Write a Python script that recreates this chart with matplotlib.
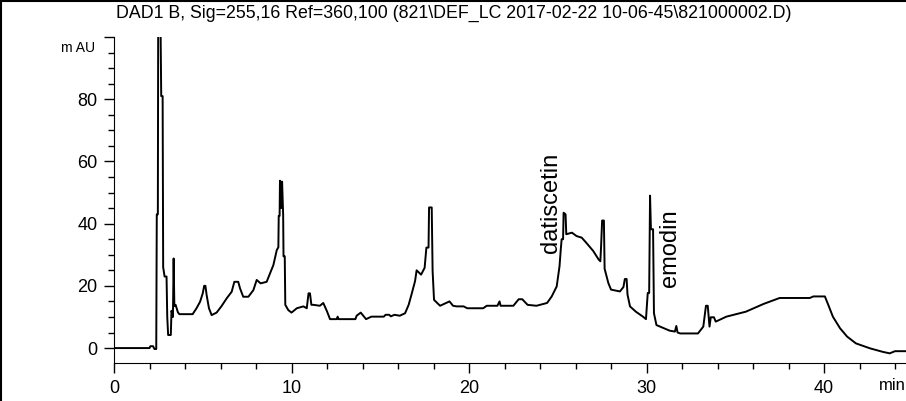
import matplotlib
matplotlib.use('Agg')
import matplotlib.pyplot as plt
from matplotlib.lines import Line2D
from matplotlib.ticker import MultipleLocator

plt.rcParams['font.family'] = ['Liberation Sans Narrow', 'Liberation Sans', 'DejaVu Sans']

title = r'DAD1 B, Sig=255,16 Ref=360,100 (821\DEF_LC 2017-02-22 10-06-45\821000002.D)'

# retention time (min) and absorbance (mAU)
time_min = [
    0.0, 2.0, 2.05, 2.2, 2.28, 2.38, 2.41, 2.47, 2.49, 2.62, 2.66, 2.74, 2.77,
    2.85, 2.96, 3.0, 3.05, 3.2, 3.24, 3.32, 3.36, 3.4, 3.47, 3.6, 3.68, 4.43,
    4.65, 4.85, 5.0, 5.08, 5.15, 5.22, 5.35, 5.5, 5.78, 6.06, 6.35, 6.63, 6.78,
    7.0, 7.1, 7.28, 7.57, 7.85, 8.04, 8.26, 8.6, 8.79, 8.98, 9.17, 9.26, 9.28,
    9.33, 9.35, 9.42, 9.47, 9.53, 9.55, 9.62, 9.65, 9.82, 10.0, 10.3, 10.67,
    10.86, 10.96, 11.04, 11.12, 11.23, 11.6, 11.79, 12.0, 12.17, 12.55, 12.6,
    12.65, 13.6, 13.67, 13.9, 14.2, 14.5, 15.2, 15.3, 15.5, 15.6, 15.8, 16.1,
    16.4, 16.6, 16.76, 16.96, 17.05, 17.3, 17.5, 17.6, 17.72, 17.75, 17.9,
    17.95, 18.03, 18.37, 18.6, 18.8, 18.9, 19.1, 19.3, 19.7, 19.9, 20.8, 21.0,
    21.6, 21.72, 21.78, 22.5, 22.8, 23.0, 23.3, 23.8, 24.4, 24.66, 24.94, 25.1,
    25.17, 25.22, 25.3, 25.33, 25.44, 25.48, 25.8, 26.06, 26.35, 26.6, 27.0,
    27.3, 27.4, 27.44, 27.5, 27.6, 27.64, 27.85, 28.0, 28.5, 28.7, 28.78,
    28.88, 28.93, 29.07, 29.4, 29.8, 29.97, 30.07, 30.15, 30.2, 30.25, 30.37,
    30.42, 30.56, 31.3, 31.6, 31.68, 31.75, 31.9, 32.9, 33.2, 33.35, 33.45,
    33.55, 33.62, 33.8, 33.9, 34.5, 35.6, 36.6, 37.5, 39.2, 39.4, 40.05, 40.24,
    40.5, 40.9, 41.3, 41.8, 42.6, 43.3, 43.7, 44.0, 44.6,
]
signal_mau = [
    0.0, 0.0, 0.6, 0.6, -0.3, -0.3, 43.0, 43.0, 105.0, 105.0, 81.0, 81.0, 26.0,
    23.0, 23.0, 10.0, 4.2, 4.2, 12.0, 10.0, 28.8, 13.5, 13.9, 11.5, 10.9, 10.9,
    12.8, 14.9, 17.6, 20.0, 20.0, 17.0, 12.8, 10.6, 11.4, 13.5, 16.0, 18.1, 21.3,
    21.3, 19.2, 16.5, 16.5, 18.6, 21.9, 20.8, 21.3, 24.0, 26.7, 31.5, 32.4, 42.5,
    42.5, 53.8, 45.0, 53.5, 42.8, 29.5, 29.5, 13.9, 12.2, 11.4, 12.8, 13.4,
    12.8, 17.6, 17.6, 13.9, 13.9, 13.6, 14.5, 11.8, 9.3, 9.3, 10.1,
    9.3, 9.3, 10.4, 11.4, 9.3, 10.1, 10.1, 10.7, 10.7, 10.2, 10.7, 10.4,
    11.2, 13.9, 17.2, 21.5, 25.0, 23.6, 25.8, 32.3, 32.3, 45.2, 45.2,
    24.7, 15.5, 13.6, 14.2, 14.7, 15.0, 13.6, 13.4, 13.4, 12.8, 12.8, 13.6,
    13.6, 15.0, 13.6, 13.6, 15.7, 15.7, 13.9, 13.6, 14.5, 16.6, 19.8, 26.3,
    31.7, 35.0, 35.0, 43.5, 43.0, 36.6, 37.1, 36.0, 35.5, 33.9, 31.2,
    28.5, 27.9, 32.5, 41.0, 41.0, 25.5, 20.9, 18.8, 18.2, 19.6, 22.2,
    22.2, 17.2, 13.4, 11.7, 10.1, 9.3, 17.7, 17.7, 49.0, 38.2, 38.2,
    11.2, 7.4, 5.6, 5.3, 7.1, 5.0, 4.7, 4.7, 6.9, 13.6, 13.6,
    6.9, 9.9, 9.9, 8.5, 10.1, 11.7, 14.2, 16.1, 16.1, 16.6, 16.6, 13.9,
    10.1, 6.4, 3.7, 1.5, -0.1, -1.2, -1.7, -1.0, -1.0,
]

x_ticks = [0, 10, 20, 30, 40]
y_ticks = [0, 20, 40, 60, 80, 100]
y_tick_labels = ['0', '20', '40', '60', '80', '']

peak_names = ['datiscetin', 'emodin']
peak_times = [24.6, 31.3]
peak_label_y = [30.5, 19.5]

fig = plt.figure(figsize=(9.06, 4.01), dpi=100)
ax = fig.add_axes([114 / 906, 1 - 363 / 401, 1 - 114 / 906, 326 / 401])

ax.plot(time_min, signal_mau, color='black', lw=1.4)
ax.set_xlim(0, 792 / 17.75)
ax.set_ylim(-4.8, 100)

ax.spines['top'].set_visible(False)
ax.spines['right'].set_visible(False)

ax.set_xticks(x_ticks)
ax.set_yticks(y_ticks)
ax.set_yticklabels(y_tick_labels)
ax.xaxis.set_minor_locator(MultipleLocator(2))
ax.yaxis.set_minor_locator(MultipleLocator(5))
ax.tick_params(which='major', direction='out', length=7, width=1, pad=5, labelsize=13)
ax.tick_params(which='minor', direction='out', length=4, width=1)

for name, t, y in zip(peak_names, peak_times, peak_label_y):
    ax.text(t, y, name, rotation=90, ha='center', va='bottom', fontsize=17)

fig.text(95 / 906, 1 - 48 / 401, 'm AU', ha='right', va='center', fontsize=10)
fig.text(879 / 906, 1 - 385 / 401, 'min', ha='left', va='center', fontsize=12)
fig.text(454 / 906, 1 - 13 / 401, title, ha='center', va='center', fontsize=12.8)

# frame lines on top and left edge of the picture
fig.add_artist(Line2D([0, 1], [1 - 1 / 401, 1 - 1 / 401], color='black', lw=1.5))
fig.add_artist(Line2D([1 / 906, 1 / 906], [0, 1], color='black', lw=1.5))

fig.savefig('out.png', dpi=100)
